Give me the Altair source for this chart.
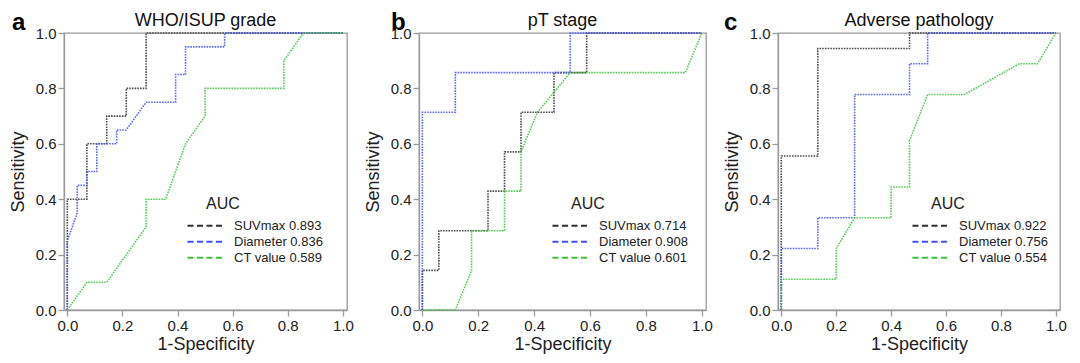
import altair as alt
import pandas as pd

FONT = "Liberation Sans"

TICKS = [0.0, 0.2, 0.4, 0.6, 0.8, 1.0]
SERIES = ["SUVmax", "Diameter", "CT value"]
PANEL_LETTERS = ["a", "b", "c"]
PANEL_TITLES = ["WHO/ISUP grade", "pT stage", "Adverse pathology"]
LEGEND_TITLE = "AUC"
AUC_A = ["0.893", "0.836", "0.589"]
AUC_B = ["0.714", "0.908", "0.601"]
AUC_C = ["0.922", "0.756", "0.554"]

# Panel a: WHO/ISUP grade
A_SUV_X = [0, 0, 0.071, 0.071, 0.143, 0.143, 0.214, 0.214, 0.286, 0.286, 1.0]
A_SUV_Y = [0, 0.4, 0.4, 0.6, 0.6, 0.7, 0.7, 0.8, 0.8, 1.0, 1.0]
A_DIA_X = [0, 0, 0.036, 0.036, 0.071, 0.071, 0.107, 0.107, 0.179, 0.179, 0.214, 0.286,
           0.393, 0.393, 0.429, 0.429, 0.571, 0.571, 1.0]
A_DIA_Y = [0, 0.25, 0.35, 0.45, 0.45, 0.5, 0.5, 0.6, 0.6, 0.65, 0.65, 0.75,
           0.75, 0.85, 0.85, 0.95, 0.95, 1.0, 1.0]
A_CT_X = [0, 0.071, 0.143, 0.286, 0.286, 0.357, 0.429, 0.5, 0.5, 0.786, 0.786, 0.857, 1.0]
A_CT_Y = [0, 0.1, 0.1, 0.3, 0.4, 0.4, 0.6, 0.7, 0.8, 0.8, 0.9, 1.0, 1.0]

# Panel b: pT stage
B_SUV_X = [0, 0, 0.059, 0.059, 0.235, 0.235, 0.294, 0.294, 0.353, 0.353, 0.471, 0.471, 0.588, 0.588, 1.0]
B_SUV_Y = [0, 0.143, 0.143, 0.286, 0.286, 0.429, 0.429, 0.571, 0.571, 0.714, 0.714, 0.857, 0.857, 1.0, 1.0]
B_DIA_X = [0, 0, 0.118, 0.118, 0.529, 0.529, 1.0]
B_DIA_Y = [0, 0.714, 0.714, 0.857, 0.857, 1.0, 1.0]
B_CT_X = [0, 0.118, 0.176, 0.176, 0.294, 0.294, 0.353, 0.353, 0.412, 0.529, 0.941, 1.0]
B_CT_Y = [0, 0, 0.143, 0.286, 0.286, 0.429, 0.429, 0.571, 0.714, 0.857, 0.857, 1.0]

# Panel c: Adverse pathology
C_SUV_X = [0, 0, 0.133, 0.133, 0.467, 0.467, 1.0]
C_SUV_Y = [0, 0.556, 0.556, 0.944, 0.944, 1.0, 1.0]
C_DIA_X = [0, 0, 0.133, 0.133, 0.267, 0.267, 0.467, 0.467, 0.533, 0.533, 1.0]
C_DIA_Y = [0, 0.222, 0.222, 0.333, 0.333, 0.778, 0.778, 0.889, 0.889, 1.0, 1.0]
C_CT_X = [0, 0, 0.2, 0.2, 0.267, 0.4, 0.4, 0.467, 0.467, 0.533, 0.667, 0.867, 0.933, 1.0]
C_CT_Y = [0, 0.111, 0.111, 0.222, 0.333, 0.333, 0.444, 0.444, 0.611, 0.778, 0.778, 0.889, 0.889, 1.0]

COLORS = ["#2e2e2e", "#3f4fff", "#38c238"]

PANELS = [
    (PANEL_LETTERS[0], PANEL_TITLES[0], AUC_A, [(A_SUV_X, A_SUV_Y), (A_DIA_X, A_DIA_Y), (A_CT_X, A_CT_Y)]),
    (PANEL_LETTERS[1], PANEL_TITLES[1], AUC_B, [(B_SUV_X, B_SUV_Y), (B_DIA_X, B_DIA_Y), (B_CT_X, B_CT_Y)]),
    (PANEL_LETTERS[2], PANEL_TITLES[2], AUC_C, [(C_SUV_X, C_SUV_Y), (C_DIA_X, C_DIA_Y), (C_CT_X, C_CT_Y)]),
]

# layout (sizes / offsets)
WIDTHS = [283, 287, 282]
HEIGHT = 277
LETTER_X = [-52, -28, -54]
LEGEND_X = [122, 132, 133]
LEGEND_Y = 186
AUC_DX = 20
AUC_Y = 171


def make_panel(idx):
    letter, title, aucs, series = PANELS[idx]
    labels = [f"{s} {a}" for s, a in zip(SERIES, aucs)]
    rows = []
    for lab, (xs, ys) in zip(labels, series):
        for k, (x, y) in enumerate(zip(xs, ys)):
            rows.append({"series": lab, "k": k, "x": x, "y": y})
    df = pd.DataFrame(rows)

    lines = alt.Chart(df).mark_line(
        strokeWidth=1.6, strokeDash=[1.6, 1.1], strokeOpacity=0.85
    ).encode(
        x=alt.X("x:Q",
                scale=alt.Scale(domain=[-0.012, 1.015], nice=False, zero=False),
                axis=alt.Axis(values=TICKS, format=".1f", title="1-Specificity")),
        y=alt.Y("y:Q",
                scale=alt.Scale(domain=[0, 1], nice=False),
                axis=alt.Axis(values=TICKS, format=".1f", title="Sensitivity")),
        color=alt.Color(
            "series:N",
            scale=alt.Scale(domain=labels, range=COLORS),
            legend=alt.Legend(
                title=None,
                orient="none", legendX=LEGEND_X[idx], legendY=LEGEND_Y,
                symbolType="stroke", symbolSize=1300, symbolDash=[6, 3.5],
                symbolStrokeWidth=2, symbolOpacity=1,
                labelFontSize=13, labelOffset=9, labelFont=FONT, labelColor="#222",
                clipHeight=13.5, rowPadding=2, padding=0,
            ),
        ),
        order="k:Q",
    )

    auc_text = alt.Chart(pd.DataFrame({"t": [LEGEND_TITLE]})).mark_text(
        align="left", baseline="middle", fontSize=16, font=FONT, color="#222"
    ).encode(text="t:N", x=alt.value(LEGEND_X[idx] + AUC_DX), y=alt.value(AUC_Y))

    letter_chart = alt.Chart(pd.DataFrame({"t": [letter]})).mark_text(
        align="left", baseline="alphabetic", fontSize=24, fontWeight="bold",
        font=FONT, color="#000"
    ).encode(text="t:N", x=alt.value(LETTER_X[idx]), y=alt.value(-3))

    title_chart = alt.Chart(pd.DataFrame({"t": [title]})).mark_text(
        align="center", baseline="alphabetic", fontSize=18, fontWeight="normal",
        font=FONT, color="#111"
    ).encode(text="t:N", x=alt.value(WIDTHS[idx] / 2), y=alt.value(-7))

    return alt.layer(lines, auc_text, letter_chart, title_chart).properties(
        width=WIDTHS[idx], height=HEIGHT,
    )


chart = alt.hconcat(make_panel(0), make_panel(1), make_panel(2), spacing=9).resolve_scale(
    color="independent"
).resolve_legend(color="independent").properties(
    padding={"left": 0, "top": 2, "right": 0, "bottom": 0},
    background="white",
).configure_view(
    stroke="#9a9a9a", strokeWidth=1.3
).configure_axis(
    labelFont=FONT, titleFont=FONT, labelFontSize=15, titleFontSize=18,
    titleFontWeight="normal", labelColor="#222", titleColor="#222",
    domainColor="#9a9a9a", domainWidth=1.3, tickColor="#9a9a9a", tickWidth=1.3,
    tickSize=6, labelPadding=2, grid=False,
).configure_axisY(titlePadding=8).configure_axisX(titlePadding=2)

chart.save("out.html", embed_options={"renderer": "svg", "actions": False})
